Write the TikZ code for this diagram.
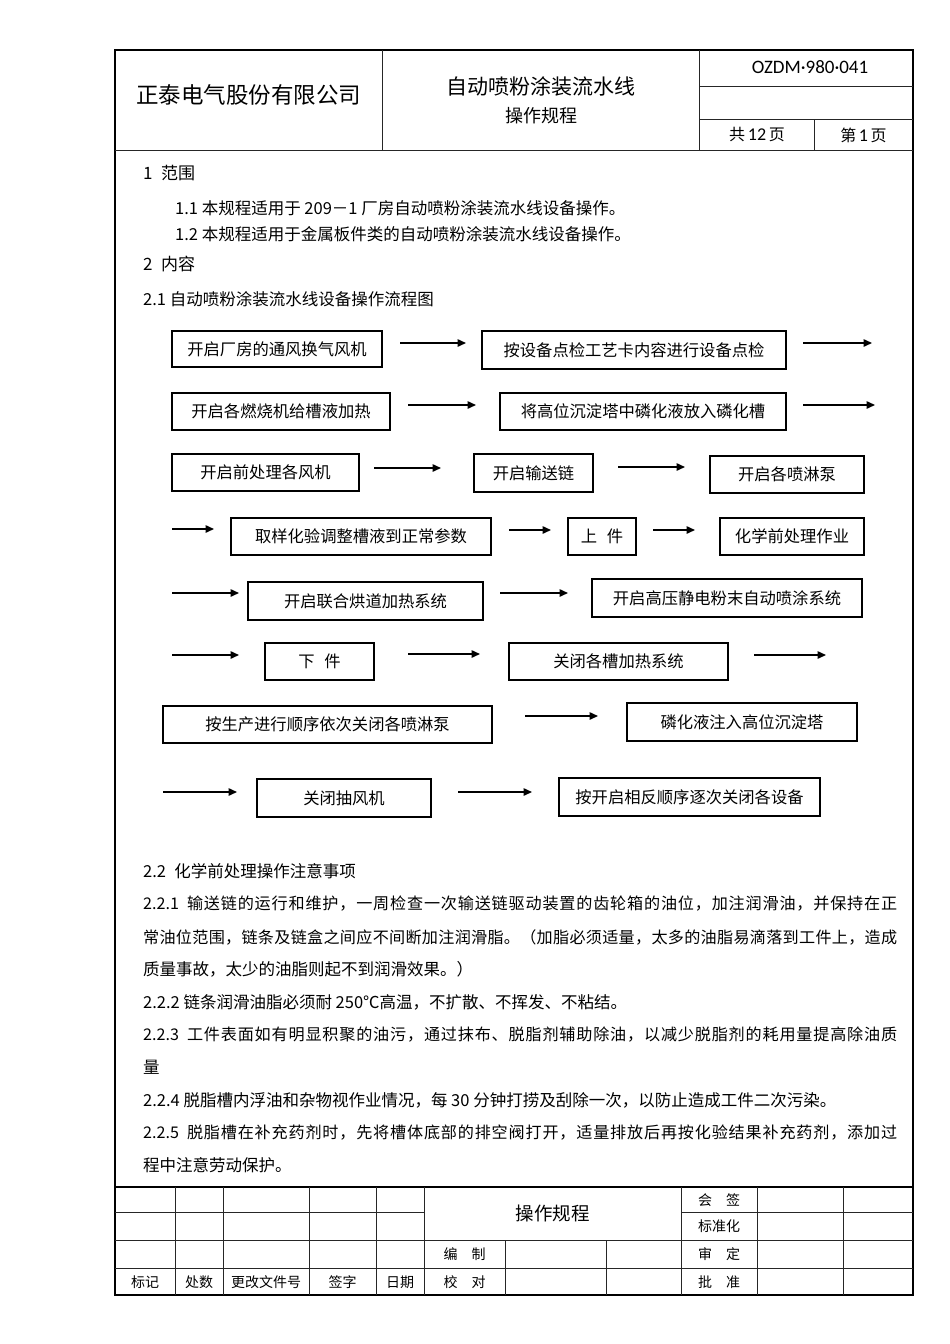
\documentclass[tikz,border=0pt]{standalone}
\usepackage{fontspec}
\setmainfont{Noto Sans CJK SC}
\newfontfamily\latinf{Carlito}
\usetikzlibrary{arrows.meta}
\newcommand\fsz[1]{\fontsize{#1pt}{#1pt}\selectfont}
\def\sprd#1{\ifx#1\relax\else\hskip 0pt plus 1fil #1\expandafter\sprd\fi}
\newcommand\jline[2]{\hbox to 754pt{#1\sprd#2\relax}}
\tikzset{
  fbox/.style={draw, line width=1.2pt, inner sep=0pt, font=\fsz{16.3}},
  arr/.style={line width=1.5pt, -{Triangle[length=8.5pt,width=7.5pt]}},
  txt/.style={anchor=west, inner sep=0pt, font=\fsz{16.5}},
  jtxt/.style={anchor=west, inner sep=0pt, font=\fsz{16.1}},
  cell/.style={inner sep=0pt, font=\fsz{14}},
  frame/.style={line width=2.6pt},
  grid/.style={line width=1pt, draw=black!85}
}
\begin{document}
\begin{tikzpicture}[x=1pt,y=-1pt]
\useasboundingbox (0,0) rectangle (950,1344);
% ---------- outer frame and header ----------
\draw[frame] (115,50) rectangle (913,1295);
\draw[grid] (115,150.5) -- (913,150.5);
\draw[grid] (382.5,50) -- (382.5,150.5);
\draw[grid] (699,50) -- (699,150.5);
\draw[grid] (699,86) -- (913,86);
\draw[grid] (699,119.5) -- (913,119.5);
\draw[grid] (814,119.5) -- (814,150.5);
\node[cell, font=\fsz{22.5}] (company) at (248.5,95) {正泰电气股份有限公司};
\node[cell, font=\fsz{21}] (title) at (541,86.5) {自动喷粉涂装流水线};
\node[cell, font=\fsz{18}] (subtitle) at (541,116) {操作规程};
\node[cell, font=\fsz{19}\latinf] (code) at (810,67.5) {OZDM·980·041};
\node[cell, font=\fsz{16}] (total) at (757,135) {共\,{\latinf\fsz{18}12}\,页};
\node[cell, font=\fsz{16}] (page) at (863.5,135) {第\,{\latinf\fsz{18}1}\,页};
% ---------- section 1 / 2 ----------
\node[txt, font=\fsz{17}] (h1) at (143,173) {1\enspace 范围};
\node[txt] (p11) at (175,208) {1.1 本规程适用于 209－1 厂房自动喷粉涂装流水线设备操作。};
\node[txt] (p12) at (175,234) {1.2 本规程适用于金属板件类的自动喷粉涂装流水线设备操作。};
\node[txt, font=\fsz{17}] (h2) at (143,264) {2\enspace 内容};
\node[txt] (p21) at (143,299) {2.1 自动喷粉涂装流水线设备操作流程图};
% ---------- flow chart boxes ----------
\node[fbox, minimum width=210pt, minimum height=36pt] (A) at (277,349) {开启厂房的通风换气风机};
\node[fbox, minimum width=304pt, minimum height=38pt] (B) at (634,350) {按设备点检工艺卡内容进行设备点检};
\node[fbox, minimum width=218pt, minimum height=37pt] (C) at (281,411.5) {开启各燃烧机给槽液加热};
\node[fbox, minimum width=286pt, minimum height=37pt] (D) at (643,411.5) {将高位沉淀塔中磷化液放入磷化槽};
\node[fbox, minimum width=187pt, minimum height=37pt] (E) at (265.5,472.5) {开启前处理各风机};
\node[fbox, minimum width=119pt, minimum height=38pt] (F) at (533.5,473) {开启输送链};
\node[fbox, minimum width=154pt, minimum height=37pt] (G) at (787,474.5) {开启各喷淋泵};
\node[fbox, minimum width=260pt, minimum height=37pt] (H) at (361,536.5) {取样化验调整槽液到正常参数};
\node[fbox, minimum width=68pt, minimum height=37pt] (I) at (602,536.5) {上\hspace{0.6em}件};
\node[fbox, minimum width=144pt, minimum height=37pt] (J) at (792,536.5) {化学前处理作业};
\node[fbox, minimum width=235pt, minimum height=38pt] (K) at (365.5,601) {开启联合烘道加热系统};
\node[fbox, minimum width=270pt, minimum height=38pt] (L) at (727,598) {开启高压静电粉末自动喷涂系统};
\node[fbox, minimum width=109pt, minimum height=37pt] (M) at (319.5,661.5) {下\hspace{0.6em}件};
\node[fbox, minimum width=219pt, minimum height=37pt] (N) at (618.5,661.5) {关闭各槽加热系统};
\node[fbox, minimum width=329pt, minimum height=37pt] (O) at (327.5,724.5) {按生产进行顺序依次关闭各喷淋泵};
\node[fbox, minimum width=230pt, minimum height=38pt, line width=1.6pt] (P) at (742,722) {磷化液注入高位沉淀塔};
\node[fbox, minimum width=174pt, minimum height=38pt] (Q) at (344,798) {关闭抽风机};
\node[fbox, minimum width=261pt, minimum height=38pt] (R) at (689.5,797) {按开启相反顺序逐次关闭各设备};
% ---------- arrows ----------
\coordinate (a1s) at (400,343);  \coordinate (a1e) at (466,343);
\coordinate (a2s) at (803,343);  \coordinate (a2e) at (872,343);
\coordinate (a3s) at (408,405);  \coordinate (a3e) at (476,405);
\coordinate (a4s) at (803,405);  \coordinate (a4e) at (875,405);
\coordinate (a5s) at (374,468);  \coordinate (a5e) at (441,468);
\coordinate (a6s) at (618,467);  \coordinate (a6e) at (685,467);
\coordinate (a7s) at (172,529);  \coordinate (a7e) at (214,529);
\coordinate (a8s) at (509,530);  \coordinate (a8e) at (551,530);
\coordinate (a9s) at (653,530);  \coordinate (a9e) at (695,530);
\coordinate (a10s) at (172,593); \coordinate (a10e) at (239,593);
\coordinate (a11s) at (500,593); \coordinate (a11e) at (568,593);
\coordinate (a12s) at (172,655); \coordinate (a12e) at (239,655);
\coordinate (a13s) at (408,654); \coordinate (a13e) at (480,654);
\coordinate (a14s) at (754,655); \coordinate (a14e) at (826,655);
\coordinate (a15s) at (525,716); \coordinate (a15e) at (598,716);
\coordinate (a16s) at (163,792); \coordinate (a16e) at (237,792);
\coordinate (a17s) at (458,792); \coordinate (a17e) at (532,792);
\foreach \i in {1,...,17} { \draw[arr] (a\i s) -- (a\i e); }
% ---------- section 2.2 ----------
\node[txt] (p22) at (143,871) {2.2\enspace 化学前处理操作注意事项};
\node[jtxt] (p221a) at (143,904) {\jline{2.2.1\enspace 输}{送链的运行和维护，一周检查一次输送链驱动装置的齿轮箱的油位，加注润滑油，并保持在正}};
\node[jtxt] (p221b) at (143,937) {\jline{常}{油位范围，链条及链盒之间应不间断加注润滑脂。（加脂必须适量，太多的油脂易滴落到工件上，造成}};
\node[txt] (p221c) at (143,969) {质量事故，太少的油脂则起不到润滑效果。）};
\node[txt] (p222) at (143,1002) {2.2.2 链条润滑油脂必须耐 250℃高温，不扩散、不挥发、不粘结。};
\node[jtxt] (p223a) at (143,1035) {\jline{2.2.3\enspace 工}{件表面如有明显积聚的油污，通过抹布、脱脂剂辅助除油，以减少脱脂剂的耗用量提高除油质}};
\node[txt] (p223b) at (143,1067) {量};
\node[txt] (p224) at (143,1100) {2.2.4 脱脂槽内浮油和杂物视作业情况，每 30 分钟打捞及刮除一次，以防止造成工件二次污染。};
\node[jtxt] (p225a) at (143,1133) {\jline{2.2.5\enspace 脱}{脂槽在补充药剂时，先将槽体底部的排空阀打开，适量排放后再按化验结果补充药剂，添加过}};
\node[txt] (p225b) at (143,1165) {程中注意劳动保护。};
% ---------- footer table ----------
\draw[line width=1.4pt] (115,1187) -- (913,1187);
\draw[grid] (115,1212) -- (424,1212);
\draw[grid] (681,1212) -- (913,1212);
\draw[grid] (115,1240) -- (913,1240);
\draw[grid] (115,1268) -- (913,1268);
\foreach \x in {175,223,309,376,424,681,757,843} { \draw[grid] (\x,1187) -- (\x,1295); }
\foreach \x in {505,606} { \draw[grid] (\x,1240) -- (\x,1295); }
\node[cell] (f1) at (145,1282) {标记};
\node[cell] (f2) at (199,1282) {处数};
\node[cell] (f3) at (266,1282) {更改文件号};
\node[cell] (f4) at (342.5,1282) {签字};
\node[cell] (f5) at (400,1282) {日期};
\node[cell] (f6) at (464.5,1282) {校\hspace{1em}对};
\node[cell] (f7) at (464.5,1254) {编\hspace{1em}制};
\node[cell, font=\fsz{18.5}] (f8) at (552.5,1213) {操作规程};
\node[cell] (f9) at (719,1200) {会\hspace{1em}签};
\node[cell] (f10) at (719,1226) {标准化};
\node[cell] (f11) at (719,1254) {审\hspace{1em}定};
\node[cell] (f12) at (719,1282) {批\hspace{1em}准};
\end{tikzpicture}
\end{document}
